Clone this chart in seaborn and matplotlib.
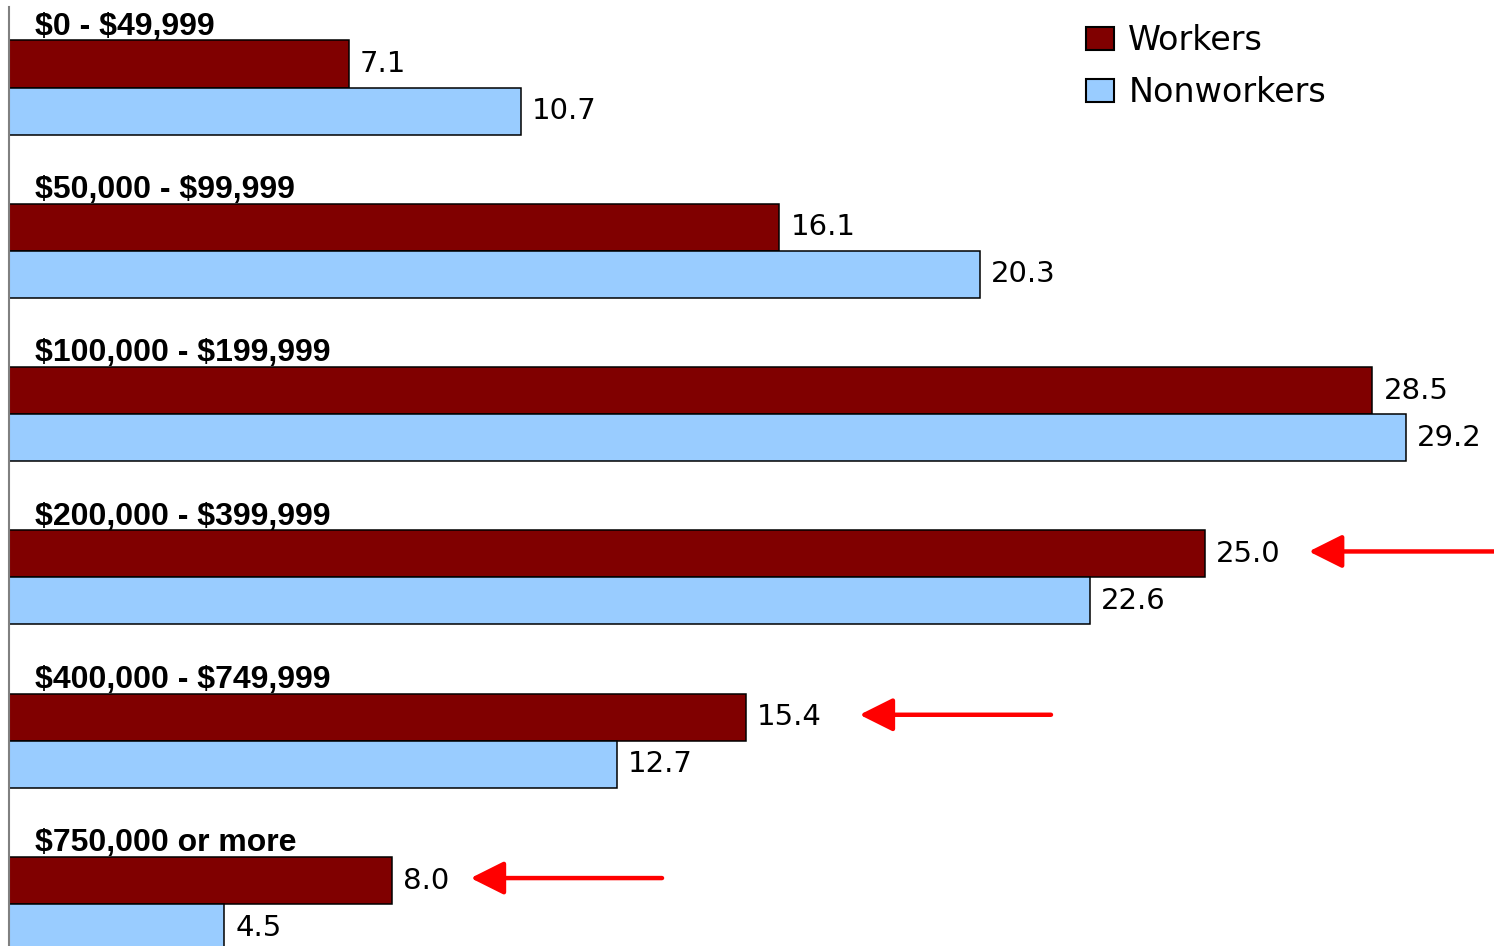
import matplotlib
matplotlib.use("Agg")
import matplotlib.pyplot as plt
import seaborn as sns
import pandas as pd

# Share of households by net-worth bracket
brackets = ["$0 - $49,999", "$50,000 - $99,999", "$100,000 - $199,999",
            "$200,000 - $399,999", "$400,000 - $749,999", "$750,000 or more"]
workers = [7.1, 16.1, 28.5, 25.0, 15.4, 8.0]
nonworkers = [10.7, 20.3, 29.2, 22.6, 12.7, 4.5]
series_names = ["Workers", "Nonworkers"]
highlighted = ["$200,000 - $399,999", "$400,000 - $749,999", "$750,000 or more"]

df = pd.DataFrame({
    "bracket": brackets * 2,
    "value": workers + nonworkers,
    "group": [series_names[0]] * len(brackets) + [series_names[1]] * len(brackets),
})

sns.set_theme(style="white")
plt.rcParams["font.family"] = ["Liberation Sans", "DejaVu Sans"]
plt.rcParams["text.parse_math"] = False
plt.rcParams["text.color"] = "black"

fig = plt.figure(figsize=(14.94, 9.46), dpi=100)
ax = fig.add_axes([0, 0, 1, 939 / 946])

palette = {"Workers": "#800000", "Nonworkers": "#99CCFF"}
sns.barplot(data=df, y="bracket", x="value", hue="group", orient="h",
            order=brackets, hue_order=series_names, palette=palette,
            width=0.576, edgecolor="black", linewidth=1.1, saturation=1,
            ax=ax)

ax.set_xlim(-0.188, 31.04)
ax.set_ylim(5.257, -0.493)

# value labels at bar ends
for cont in ax.containers:
    ax.bar_label(cont, fmt="%.1f", padding=8, fontsize=21,
                 family="DejaVu Sans", color="black")

# bracket titles above each pair of bars
half = 0.576 / 2
for i, name in enumerate(brackets):
    ax.text(0.55, i - half - 0.035, name, fontsize=23, fontweight="bold",
            va="baseline", ha="left", color="black")

# red arrows pointing at highlighted brackets
arrow_gap = {"$200,000 - $399,999": 2.17, "$400,000 - $749,999": 2.38,
             "$750,000 or more": 1.65}
for name in highlighted:
    i = brackets.index(name)
    tip = workers[i] + arrow_gap[name]
    ax.annotate("", xy=(tip, i - half / 2 - 0.015), xytext=(tip + 4.0, i - half / 2 - 0.015),
                arrowprops=dict(arrowstyle="-|>,head_length=1.7,head_width=0.85",
                                color="#FF0000", lw=3.2, shrinkA=0, shrinkB=0))

ax.set_xlabel("")
ax.set_ylabel("")
ax.set_xticks([])
ax.set_yticks([])
for side in ["top", "right", "bottom"]:
    ax.spines[side].set_visible(False)
ax.spines["left"].set_color("#808080")
ax.spines["left"].set_linewidth(1.5)
ax.spines["left"].set_position(("data", 0))

handles, labels = ax.get_legend_handles_labels()
if ax.get_legend() is not None:
    ax.get_legend().remove()
leg = ax.legend(handles, labels, loc="upper left",
                bbox_to_anchor=(1086 / 1494, 1 - 24 / 946),
                bbox_transform=fig.transFigure,
                frameon=False, prop={"family": "DejaVu Sans", "size": 24},
                handlelength=0.85, handleheight=0.67, handletextpad=0.42,
                labelspacing=0.58, borderaxespad=0, borderpad=0)
for t in leg.get_texts():
    t.set_color("black")
for h in leg.legend_handles:
    h.set_edgecolor("black")
    h.set_linewidth(1.5)

fig.savefig("out.png", dpi=100)
